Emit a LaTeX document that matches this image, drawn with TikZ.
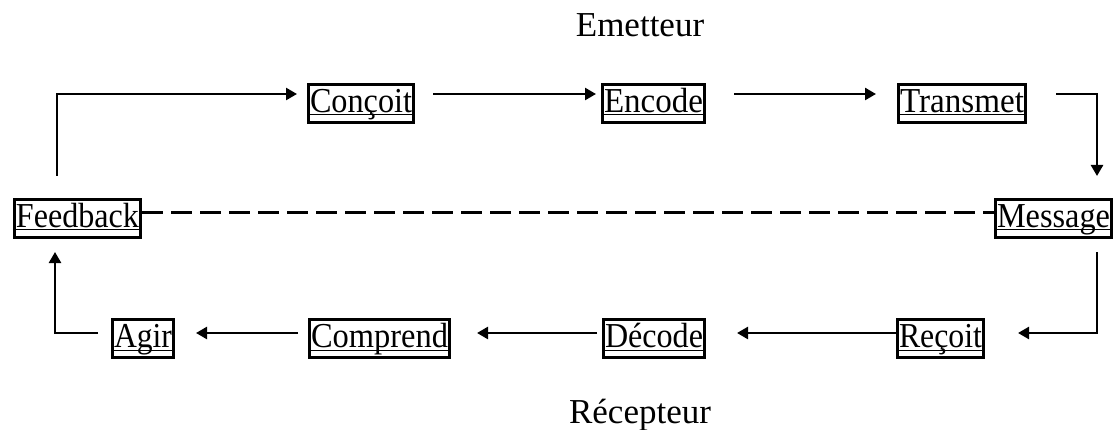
\documentclass[tikz,border=0pt]{standalone}
\usepackage{fontspec}
\setmainfont{Liberation Serif}
\usepackage{graphicx}
\usetikzlibrary{arrows.meta}
% squeeze a word horizontally to a given width (in pt), keeping its height
\newcommand{\squeeze}[2]{\resizebox{#1pt}{\height}{#2}}
\begin{document}
\begin{tikzpicture}[x=1pt,y=-1pt,
  stepbox/.style={draw, line width=3pt, outer sep=1.5pt, inner xsep=1.5pt, inner ysep=0pt,
    text height=28pt, text depth=10pt, font=\fontsize{35}{40}\selectfont},
  titletext/.style={anchor=base, inner sep=0pt, font=\fontsize{35}{40}\selectfont},
  flow/.style={line width=2.5pt, -{Triangle[length=11pt,width=12pt]}},
  baserule/.style={line width=1pt},
  dashline/.style={line width=3pt, dash pattern=on 21pt off 8pt}]
\useasboundingbox (0,0) rectangle (1115,430);

% titles
\node[titletext] (emt) at (640,37) {Emetteur};
\node[titletext] (rcp) at (640,423) {Récepteur};

% sender row
\node[stepbox] (conc) at (361,103.5)  {\squeeze{102}{Conçoit}};
\node[stepbox] (enc)  at (653.5,103.5) {\squeeze{99}{Encode}};
\node[stepbox] (tr)   at (962,103.5)  {\squeeze{124}{Transmet}};

% middle row
\node[stepbox] (fb)   at (77.5,218.5)  {\squeeze{123}{Feedback}};
\node[stepbox] (msg)  at (1053.5,218.5) {\squeeze{113}{Message}};

% receiver row
\node[stepbox] (agir) at (143,338.5)  {\squeeze{58}{Agir}};
\node[stepbox] (comp) at (379.5,338.5) {\squeeze{137}{Comprend}};
\node[stepbox] (dec)  at (654,338.5)  {\squeeze{98}{Décode}};
\node[stepbox] (rec)  at (940.5,338.5) {\squeeze{83}{Reçoit}};

% rule under the text of each box
\foreach \n in {conc,enc,tr,fb,msg,agir,comp,dec,rec}
  \draw[baserule] ([yshift=9pt]\n.south west) -- ([yshift=9pt]\n.south east);

% sender flow
\draw[flow] ([xshift=-20.5pt,yshift=22pt]fb.north) |- ([xshift=-10pt,yshift=9.5pt]conc.west);
\draw[flow] ([xshift=18pt,yshift=9.5pt]conc.east) -- ([xshift=-5pt,yshift=9.5pt]enc.west);
\draw[flow] ([xshift=28pt,yshift=9.5pt]enc.east) -- ([xshift=-21pt,yshift=9.5pt]tr.west);
\draw[flow] ([xshift=29pt,yshift=9.5pt]tr.east) -| ([xshift=43.5pt,yshift=22pt]msg.north);

% receiver flow
\draw[flow] ([xshift=43.5pt,yshift=-13pt]msg.south) |- ([xshift=33pt,yshift=5.5pt]rec.east);
\draw[flow] ([yshift=5.5pt]rec.west) -- ([xshift=31pt,yshift=5.5pt]dec.east);
\draw[flow] ([xshift=-5pt,yshift=5.5pt]dec.west) -- ([xshift=26pt,yshift=5.5pt]comp.east);
\draw[flow] ([xshift=-10pt,yshift=5.5pt]comp.west) -- ([xshift=21pt,yshift=5.5pt]agir.east);
\draw[flow] ([xshift=-13pt,yshift=5.5pt]agir.west) -| ([xshift=-22.5pt,yshift=-13pt]fb.south);

% link between feedback and message
\draw[dashline] ([yshift=5.5pt]fb.east) -- ([yshift=5.5pt]msg.west);
\end{tikzpicture}
\end{document}
